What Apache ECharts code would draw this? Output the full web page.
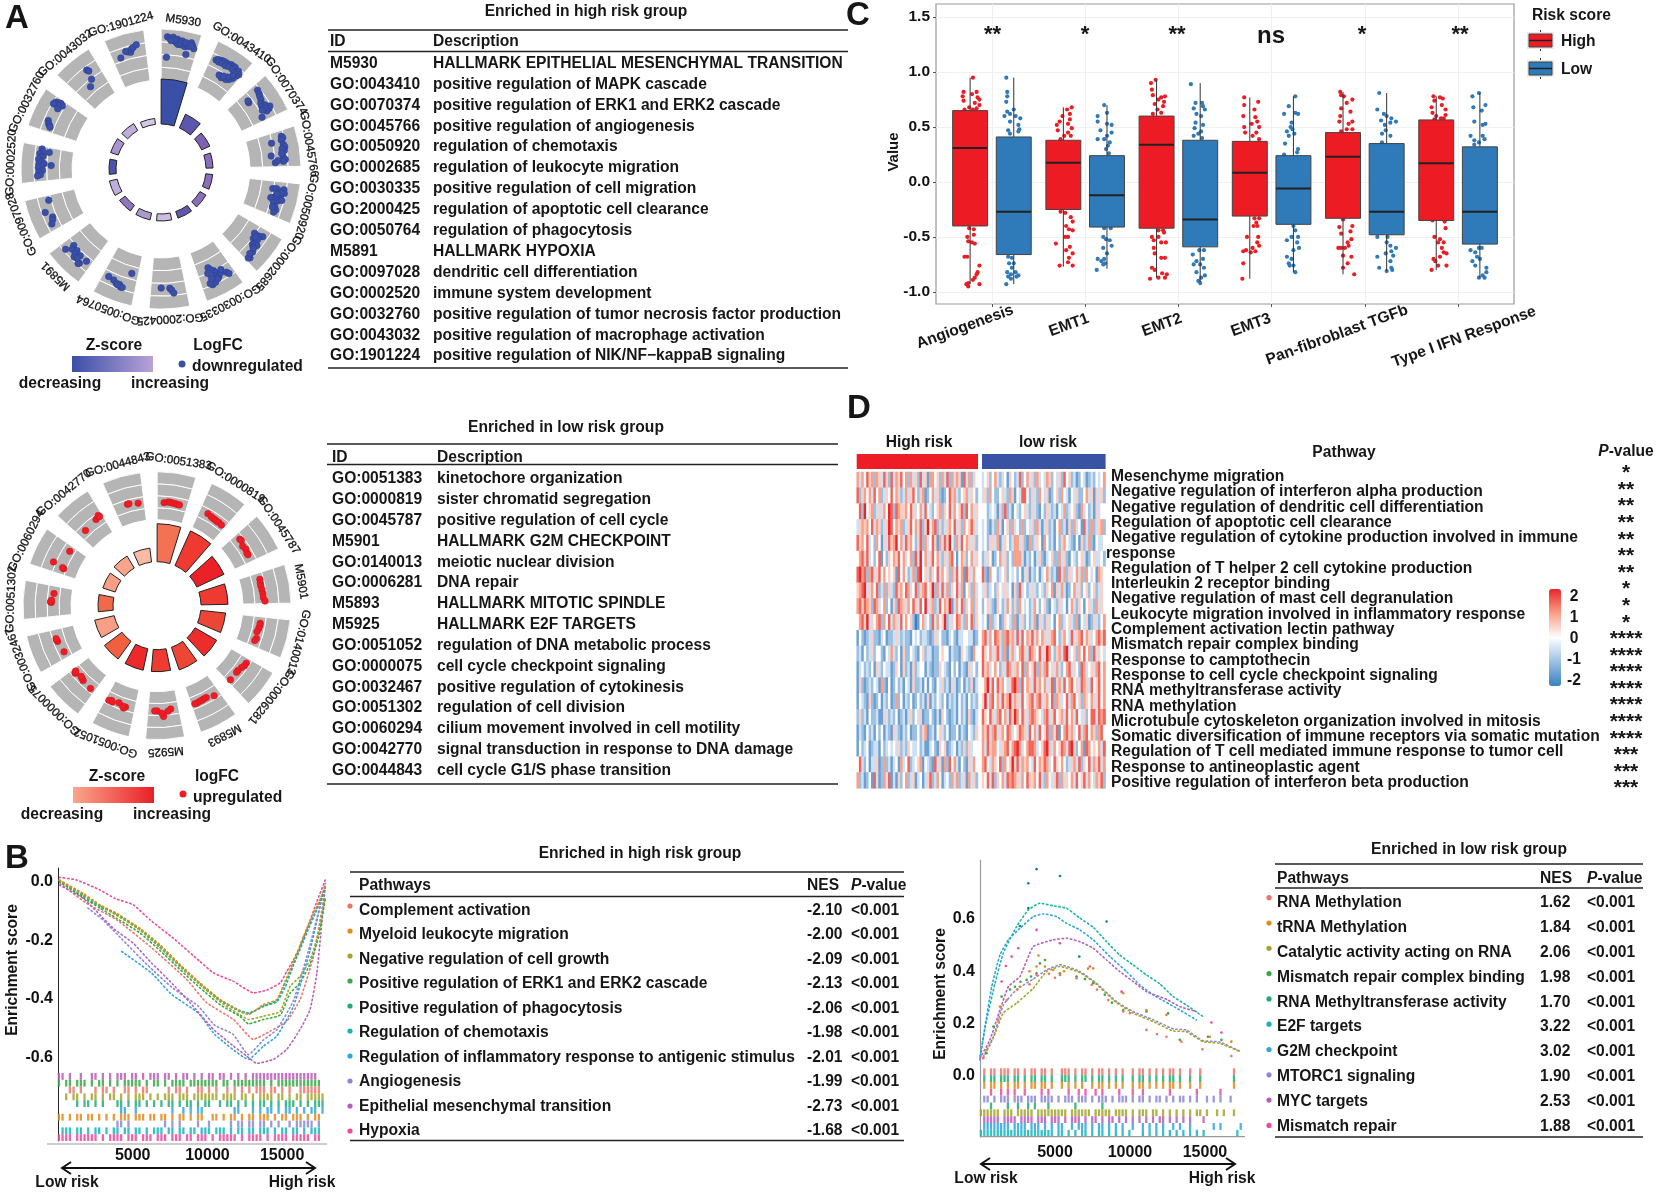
<!DOCTYPE html>
<html><head><meta charset="utf-8">
<style>html,body{margin:0;padding:0;background:#fff}#c{width:1656px;height:1192px}</style>
<script src="https://cdn.jsdelivr.net/npm/echarts@6/dist/echarts.min.js"></script></head>
<body><div id="c"></div>
<script>
/* ---------- Panel A : tables and circular plots ---------- */
const highIds=["M5930","GO:0043410","GO:0070374","GO:0045766","GO:0050920","GO:0002685","GO:0030335","GO:2000425","GO:0050764","M5891","GO:0097028","GO:0002520","GO:0032760","GO:0043032","GO:1901224"];
const highDesc=["HALLMARK EPITHELIAL MESENCHYMAL TRANSITION","positive regulation of MAPK cascade","positive regulation of ERK1 and ERK2 cascade","positive regulation of angiogenesis","regulation of chemotaxis","regulation of leukocyte migration","positive regulation of cell migration","regulation of apoptotic cell clearance","regulation of phagocytosis","HALLMARK HYPOXIA","dendritic cell differentiation","immune system development","positive regulation of tumor necrosis factor production","positive regulation of macrophage activation","positive regulation of NIK/NF\u2212kappaB signaling"];
const lowIds=["GO:0051383","GO:0000819","GO:0045787","M5901","GO:0140013","GO:0006281","M5893","M5925","GO:0051052","GO:0000075","GO:0032467","GO:0051302","GO:0060294","GO:0042770","GO:0044843"];
const lowDesc=["kinetochore organization","sister chromatid segregation","positive regulation of cell cycle","HALLMARK G2M CHECKPOINT","meiotic nuclear division","DNA repair","HALLMARK MITOTIC SPINDLE","HALLMARK E2F TARGETS","regulation of DNA metabolic process","cell cycle checkpoint signaling","positive regulation of cytokinesis","regulation of cell division","cilium movement involved in cell motility","signal transduction in response to DNA damage","cell cycle G1/S phase transition"];
const highBars=[45,15,9,7,7,7,7,7,7,7,8,7,8,8,6];
const lowBars=[38,38,30,27,25,25,24,22,22,22,20,15,13,14,14];
const highZ=[0,.25,.5,.58,.58,.58,.3,.95,.78,.6,.88,.15,.75,.88,1];
const lowZ=[.6,.2,0,.2,.3,.1,.3,.22,.07,.5,.85,.55,.85,.88,1];
const highLogFC=[
[[.85,.15],[.82,.22],[.8,.28],[.85,.3],[.78,.35],[.75,.4],[.82,.42],[.72,.45],[.78,.5],[.72,.55],[.76,.6],[.7,.65],[.75,.7],[.72,.75],[.8,.8],[.75,.85],[.7,.9],[.55,.72],[.45,.15],[.8,.35],[.78,.25],[.74,.5],[.8,.55],[.78,.65],[.74,.8]],
[[.65,.15],[.68,.2],[.69,.28],[.7,.35],[.7,.42],[.7,.5],[.72,.58],[.72,.65],[.72,.72],[.7,.85],[.65,.92],[.6,.88],[.52,.85],[.46,.78],[.42,.7],[.4,.55],[.42,.45],[.64,.24],[.65,.34],[.64,.46],[.66,.56],[.66,.68],[.62,.78],[.56,.8],[.48,.7],[.45,.58]],
[[.7,.15],[.68,.25],[.66,.32],[.64,.42],[.6,.5],[.65,.6],[.72,.7],[.68,.75],[.62,.78],[.48,.88],[.41,.28],[.42,.22],[.58,.6],[.62,.68],[.55,.7]],
[[.7,.15],[.72,.2],[.68,.25],[.48,.28],[.7,.38],[.72,.45],[.7,.55],[.43,.66],[.66,.72],[.7,.8],[.66,.85],[.5,.88],[.55,.82],[.66,.5],[.64,.62]],
[[.48,.22],[.55,.2],[.62,.25],[.7,.2],[.72,.3],[.65,.4],[.55,.45],[.48,.5],[.62,.55],[.7,.5],[.55,.62],[.6,.72],[.64,.8],[.62,.88],[.56,.75],[.66,.3],[.58,.35]],
[[.65,.2],[.58,.25],[.48,.25],[.52,.4],[.6,.45],[.66,.5],[.58,.55],[.62,.6],[.68,.72],[.72,.88],[.7,.92],[.6,.35],[.54,.32],[.64,.62],[.66,.8]],
[[.4,.62],[.45,.58],[.5,.5],[.55,.48],[.6,.55],[.65,.45],[.6,.35],[.55,.3],[.65,.2],[.7,.16],[.74,.7],[.72,.6],[.7,.75],[.5,.7],[.62,.66],[.68,.5]],
[[.59,.7],[.6,.45],[.64,.4],[.7,.35]],
[[.38,.2],[.6,.82],[.62,.65],[.66,.55],[.66,.45],[.7,.4],[.7,.35],[.68,.5]],
[[.7,.82],[.53,.75],[.6,.7],[.55,.58],[.62,.55],[.68,.5],[.58,.4],[.58,.16],[.7,.28],[.72,.3],[.65,.42]],
[[.54,.85],[.68,.55],[.58,.35],[.6,.28],[.65,.18]],
[[.62,.92],[.6,.85],[.65,.78],[.58,.72],[.62,.68],[.66,.62],[.6,.55],[.55,.5],[.65,.48],[.6,.42],[.66,.38],[.58,.3],[.65,.25],[.62,.18],[.68,.15],[.47,.85],[.41,.45]],
[[.7,.85],[.65,.88],[.6,.9],[.55,.86],[.68,.8],[.62,.8],[.72,.78],[.6,.72],[.66,.3],[.63,.22],[.6,.18],[.58,.14]],
[[.68,.65],[.64,.68],[.48,.6],[.38,.43]],
[[.57,.23],[.64,.48],[.62,.55],[.66,.42],[.68,.6],[.7,.65],[.74,.75]]];
const lowLogFC=[
[[.36,.22],[.38,.35],[.38,.42],[.37,.5],[.37,.58],[.36,.66],[.36,.74]],
[[.4,.28],[.38,.42],[.37,.5],[.37,.58],[.36,.66],[.37,.74],[.36,.86]],
[[.42,.18],[.43,.24],[.38,.42],[.4,.55],[.38,.68],[.38,.75]],
[[.42,.2],[.41,.32],[.41,.42],[.42,.55],[.43,.68],[.43,.8],[.46,.92]],
[[.39,.2],[.39,.28],[.38,.38],[.36,.5],[.39,.72],[.37,.8]],
[[.42,.15],[.42,.25],[.39,.35],[.37,.5],[.37,.58],[.38,.9]],
[[.43,.2],[.38,.45],[.38,.55],[.39,.62],[.39,.7],[.4,.8],[.4,.88]],
[[.38,.25],[.42,.35],[.52,.5],[.45,.55],[.4,.7],[.4,.78]],
[[.42,.3],[.45,.35],[.42,.4],[.38,.55],[.4,.8],[.42,.88],[.42,.76]],
[[.42,.15],[.4,.5],[.38,.58],[.37,.65],[.42,.85],[.4,.88],[.38,.9]],
[[.37,.2],[.41,.6],[.42,.65],[.42,.7]],
[[.41,.45],[.43,.47],[.41,.52],[.37,.75]],
[[.55,.28],[.3,.2],[.33,.22],[.35,.82]],
[[.37,.25],[.41,.75],[.43,.85],[.45,.88],[.42,.9]],
[[.41,.45],[.41,.5],[.38,.8]]];

/* ---------- Panel C : boxplots ---------- */
const boxCats=["Angiogenesis","EMT1","EMT2","EMT3","Pan-fibroblast TGFb","Type I IFN Response"];
const boxSig=["**","*","**","ns","*","**"];
const boxHigh=[[-.93,-.40,.31,.65,.95],[-.77,-.25,.175,.38,.68],[-.87,-.42,.34,.60,.93],[-.88,-.31,.085,.37,.77],[-.84,-.33,.23,.45,.82],[-.80,-.35,.17,.565,.78]];
const boxLow=[[-.93,-.66,-.27,.41,.95],[-.79,-.41,-.12,.24,.70],[-.91,-.59,-.34,.38,.90],[-.82,-.385,-.06,.24,.78],[-.81,-.48,-.27,.35,.81],[-.87,-.565,-.27,.32,.81]];
const jitterHigh=[
[[.03,.95],[-.07,.82],[.07,.82],[-.08,.78],[.02,.8],[.08,.77],[.1,.75],[-.07,.74],[.05,.72],[.1,.7],[-.01,.68],[.07,.67],[-.06,.66],[.03,.66],[-.01,-.42],[.04,-.43],[-.03,-.5],[.04,-.48],[-.02,-.54],[.02,-.55],[.05,-.56],[-.06,-.68],[-.03,-.68],[.1,-.76],[.07,-.84],[.05,-.87],[.03,-.89],[-.02,-.92],[-.04,-.93],[-.02,-.95],[.1,-.93],[.08,-.82]],
[[.09,.68],[.04,.66],[.07,.62],[-.01,.6],[.07,.57],[-.04,.55],[.05,.53],[-.07,.52],[.09,.49],[-.06,.47],[.05,.45],[.01,.42],[.08,.42],[-.03,.39],[-.03,-.27],[.02,-.28],[.08,-.32],[.1,-.36],[.03,-.4],[.06,-.43],[.1,-.44],[.02,-.5],[.05,-.5],[-.08,-.56],[.07,-.59],[.03,-.62],[.1,-.65],[.06,-.69],[-.04,-.76],[.1,-.76],[.05,-.73]],
[[-.01,.93],[-.06,.9],[-.05,.84],[-.04,.79],[.09,.78],[.05,.77],[.02,.75],[.08,.73],[-.02,.71],[.07,.69],[.01,.66],[.05,.63],[-.04,.62],[.02,-.44],[.07,-.44],[.08,-.46],[.02,-.5],[-.05,-.5],[-.03,-.53],[.05,-.55],[.1,-.55],[-.03,-.6],[-.02,-.65],[.05,-.69],[.09,-.69],[-.05,-.78],[-.02,-.8],[.06,-.83],[.11,-.84],[.09,-.87],[.02,-.87],[-.07,-.88]],
[[-.06,.77],[.09,.73],[-.06,.7],[.05,.66],[-.07,.6],[.06,.59],[.08,.55],[.02,.53],[.1,.5],[-.06,.5],[-.05,.45],[.07,.45],[.03,.42],[.1,.39],[.05,-.33],[.1,-.33],[.07,-.37],[.04,-.4],[.08,-.4],[-.03,-.5],[.09,-.5],[.08,-.55],[.03,-.6],[.1,-.58],[.06,-.63],[-.07,-.63],[.01,-.64],[-.04,-.62],[-.07,-.74],[-.08,-.88]],
[[-.03,.82],[-.02,.79],[.01,.78],[.1,.75],[.04,.72],[-.02,.67],[.08,.64],[-.03,.6],[.1,.55],[.06,.53],[-.04,.55],[.04,.48],[.1,.48],[-.02,.46],[.0,-.34],[-.04,-.41],[-.02,-.47],[.1,-.4],[.08,-.45],[.09,-.52],[.05,-.55],[-.02,-.6],[.02,-.6],[-.05,-.6],[.06,-.58],[.0,-.67],[.09,-.68],[.05,-.74],[.0,-.78],[.12,-.84]],
[[-.03,.78],[.04,.77],[.07,.76],[-.02,.74],[.06,.7],[-.05,.68],[.1,.66],[-.04,.63],[.1,.61],[.0,.6],[.05,.58],[.08,.58],[-.02,.57],[-.04,-.35],[.09,-.36],[.1,-.42],[-.02,-.5],[.04,-.52],[.08,-.55],[.02,-.55],[.06,-.6],[.08,-.64],[.11,-.65],[.04,-.68],[-.03,-.7],[-.01,-.72],[.11,-.76],[-.05,-.8],[.02,-.76]]];
const jitterLow=[
[[-.08,.95],[-.07,.82],[-.07,.78],[-.08,.73],[0,.66],[-.07,.64],[-.04,.62],[.02,.6],[-.1,.6],[.07,.58],[-.04,.55],[.05,.52],[.06,.48],[-.06,.47],[.05,.46],[-.04,.44],[-.06,-.68],[-.02,-.69],[-.05,-.74],[.0,-.74],[-.02,-.78],[-.07,-.82],[-.03,-.84],[.02,-.82],[-.06,-.86],[.03,-.86],[.05,-.85],[-.03,-.88],[-.08,-.93]],
[[-.03,.70],[-.1,.6],[.0,.63],[-.1,.55],[.0,.53],[.05,.52],[-.07,.47],[.05,.45],[.0,.42],[-.1,.39],[-.03,.39],[.03,.36],[.01,.33],[-.01,.3],[.02,.26],[-.03,-.42],[.04,-.42],[-.04,-.5],[-.01,-.52],[.03,-.53],[.05,-.58],[-.04,-.6],[.0,-.65],[-.1,-.7],[-.06,-.72],[-.03,-.7],[-.02,-.74],[-.11,-.8],[-.04,-.75]],
[[-.1,.89],[-.05,.72],[.02,.72],[.03,.69],[-.07,.67],[.05,.66],[-.04,.62],[.01,.6],[-.05,.54],[.03,.52],[-.06,.49],[.01,.46],[-.02,.44],[-.07,.42],[.02,.4],[-.01,-.62],[.04,-.62],[-.08,-.66],[-.04,-.72],[.03,-.7],[-.07,-.75],[.0,-.75],[.04,-.78],[-.04,-.82],[.05,-.85],[.01,-.87],[-.02,-.9],[.0,-.92]],
[[.02,.78],[-.05,.69],[.02,.63],[.05,.62],[-.1,.62],[-.02,.54],[-.03,.5],[-.01,.48],[-.07,.46],[.01,.44],[-.05,.42],[-.09,.35],[.05,.3],[.04,.27],[-.1,.25],[.0,-.4],[.02,-.44],[-.02,-.5],[.05,-.5],[.04,-.55],[-.07,-.53],[.06,-.6],[.0,-.62],[-.07,-.68],[-.02,-.7],[-.05,-.74],[.0,-.76],[.02,-.82],[-.04,-.76]],
[[-.08,.81],[-.1,.66],[-.03,.62],[.0,.6],[.05,.58],[-.06,.56],[.1,.55],[-.02,.52],[.04,.54],[-.01,.47],[-.05,.44],[.04,.42],[-.05,.36],[-.1,-.5],[.01,-.5],[.0,-.55],[.04,-.58],[.1,-.6],[.05,-.63],[-.01,-.65],[.07,-.67],[-.1,-.68],[.04,-.72],[-.08,-.78],[.06,-.8],[.0,-.81],[.05,-.78]],
[[-.01,.81],[-.08,.78],[.06,.7],[-.07,.68],[.02,.65],[-.06,.55],[.06,.53],[.03,.52],[-.1,.42],[.03,.42],[.05,.39],[-.06,.38],[-.01,.36],[-.06,.34],[-.01,-.6],[-.1,-.62],[-.05,-.64],[.02,-.6],[-.03,-.68],[.0,-.7],[-.08,-.72],[-.05,-.76],[.07,-.78],[.03,-.85],[-.01,-.87],[.05,-.87],[.07,-.82]]];

/* ---------- Panel D : heatmap (digits 0..8 read as -2..+2) ---------- */
const heatHigh=[
"63647 56265 37527 36574 62635 27351 66452 63726 36517 36254",
"72564 63746 23547 46523 63574 25612 46352 12475 63245 63542",
"47284 56235 36487 27655 64753 46374 32456 25473 64572 74635",
"35656 47365 23587 46562 35746 37258 46725 23564 73526 45753",
"75647 34264 15375 68463 75642 57263 47516 37584 26374 65352",
"46757 34247 14254 65746 34627 38463 57463 25367 41465 24635",
"78672 67357 46454 51746 42362 78453 63473 64526 37461 75364",
"56783 56472 36253 27564 76347 25674 58263 73625 47361 45263",
"67576 52763 46241 52765 36475 37483 56237 46581 36472 54625",
"46758 35467 26473 65374 64520 14634 27364 58235 47632 64725",
"14212 35221 34122 35323 22143 42332 12534 22134 21334 43312",
"23142 35244 21436 32415 22432 14523 31224 54413 22154 32164",
"13423 24153 24331 25415 23152 34413 21225 43214 24132 15342",
"15212 32431 62141 24231 43152 23141 42143 52315 31241 32513",
"14321 52124 13241 26241 32412 42315 13243 24132 31423 14232",
"25231 42231 15323 24123 13524 35122 42131 54212 31423 15213",
"13214 23142 41321 53213 24122 42561 23145 32412 24132 14325",
"14234 12331 42343 43523 25433 42311 34215 45123 41325 25344",
"47324 13351 26231 34163 47234 56143 21735 16274 63142 15364",
"62312 41731 26371 31524 62351 34135 72364 13426 36235 16352"];
const heatLow=[
"34524 63234 15423 72463 52634 36524 35274 52312 43123 24346",
"35264 22453 26514 37742 53264 35124 52643 14352 24635 15352",
"44234 31527 23143 24532 53214 25323 14362 34521 63423 15344",
"34213 26314 52634 26243 52631 35231 46231 52634 17326 23562",
"34255 36135 42366 35216 23541 64231 42564 32141 52362 14334",
"23541 24635 24266 63132 41352 13452 26352 14324 53124 53342",
"72164 42345 24342 41351 32413 46323 17362 53463 62643 41654",
"35234 25435 34152 73423 53243 25461 53631 24635 24524 52354",
"24532 15423 64252 64342 36424 52143 25341 46325 41453 26354",
"34162 34125 43261 35242 36153 25341 46234 53261 43512 53246",
"67364 76526 75637 37465 73646 53567 42564 37356 74653 46757",
"75463 57326 15634 67537 65473 58642 56378 34526 47462 73543",
"75634 64253 76356 47264 57263 67453 63246 73542 76345 36746",
"46837 47564 35786 27465 37564 63571 56374 67453 76537 45746",
"58367 46375 68365 37456 73673 56472 65347 36745 26546 35746",
"75475 36746 37586 47536 76543 67357 45637 46374 35247 73767",
"65736 73564 76345 76537 46374 57263 71467 56347 36746 52674",
"63756 64356 74678 63467 76345 78536 45763 78524 61764 54637",
"67436 54726 45857 36564 37465 76347 54642 35637 25473 65736",
"54737 25463 76765 36475 56473 26435 72635 46374 57364 36572"];
const heatLines=["Mesenchyme migration","Negative regulation of interferon alpha production","Negative regulation of dendritic cell differentiation","Regulation of apoptotic cell clearance","Negative regulation of cytokine production involved in immune","response","Regulation of T helper 2 cell cytokine production","Interleukin 2 receptor binding","Negative regulation of mast cell degranulation","Leukocyte migration involved in inflammatory response","Complement activation lectin pathway","Mismatch repair complex binding","Response to camptothecin","Response to cell cycle checkpoint signaling","RNA methyltransferase activity","RNA methylation","Microtubule cytoskeleton organization involved in mitosis","Somatic diversification of immune receptors via somatic mutation","Regulation of T cell mediated immune response to tumor cell","Response to antineoplastic agent","Positive regulation of interferon beta production"];
const heatStars=["*","**","**","**","**","**","**","*","*","*","****","****","****","****","****","****","****","***","***","***"];
const heatScale=["2","1","0","-1","-2"];

/* ---------- Panel B : GSEA ---------- */
const gseaHighNames=["Complement activation","Myeloid leukocyte migration","Negative regulation of cell growth","Positive regulation of ERK1 and ERK2 cascade","Positive regulation of phagocytosis","Regulation of chemotaxis","Regulation of inflammatory response to antigenic stimulus","Angiogenesis","Epithelial mesenchymal transition","Hypoxia"];
const gseaHighNES=["-2.10","-2.00","-2.09","-2.13","-2.06","-1.98","-2.01","-1.99","-2.73","-1.68"];
const gseaHighColors=["#f0736a","#e08b1c","#a3a52a","#39a845","#22ab74","#16b5bd","#2fa4e0","#8d86d6","#b95cbb","#ec4a9f"];
const gseaLowNames=["RNA Methylation","tRNA Methylation","Catalytic activity acting on RNA","Mismatch repair complex binding","RNA Methyltransferase activity","E2F targets","G2M checkpoint","MTORC1 signaling","MYC targets","Mismatch repair"];
const gseaLowNES=["1.62","1.84","2.06","1.98","1.70","3.22","3.02","1.90","2.53","1.88"];
const gseaLowColors=gseaHighColors;
const gseaP="<0.001";
const gseaHighXTicks=[5000,10000,15000];
const gseaHighYTicks=[0,-.2,-.4,-.6];
const gseaLowYTicks=[0,.2,.4,.6];
const curveMyeloid=[[90,.006],[1700,-.04],[2810,-.079],[3930,-.108],[5490,-.159],[6830,-.215],[8170,-.283],[9500,-.345],[10850,-.402],[12190,-.442],[12750,-.453],[13750,-.419],[14640,-.402],[15200,-.34],[15760,-.272],[16650,-.159],[17320,-.085],[17880,-.017]];
const curvePhago=[[90,.004],[1700,-.045],[2810,-.082],[3930,-.112],[5490,-.162],[6830,-.22],[8170,-.285],[9500,-.347],[10850,-.405],[12190,-.444],[12750,-.45],[13750,-.425],[14640,-.405],[15200,-.345],[15760,-.28],[16650,-.165],[17320,-.09],[17880,-.02]];
const curveChemo=[[90,.003],[1700,-.05],[2810,-.085],[3930,-.11],[5490,-.165],[6830,-.225],[8170,-.29],[9500,-.35],[10850,-.403],[12190,-.44],[12750,-.448],[13750,-.425],[14640,-.41],[15200,-.36],[15760,-.285],[16650,-.175],[17320,-.095],[17880,-.025]];
const curveGrowth=[[90,.005],[1700,-.045],[2810,-.08],[3930,-.115],[5490,-.165],[6830,-.225],[8170,-.29],[9500,-.352],[10850,-.41],[12190,-.455],[12750,-.47],[13750,-.459],[14870,-.442],[15530,-.357],[16200,-.323],[16870,-.266],[17430,-.176],[17880,-.051]];
const curveERK=[[90,.0],[1700,-.055],[2810,-.09],[3930,-.125],[5490,-.175],[6830,-.235],[8170,-.3],[9500,-.362],[10850,-.42],[12190,-.46],[12750,-.485],[13750,-.47],[14870,-.455],[15530,-.38],[16200,-.345],[16870,-.28],[17430,-.19],[17880,-.06]];
const curveComplement=[[135,-.006],[1920,-.074],[3930,-.13],[6160,-.221],[8620,-.334],[9950,-.413],[11740,-.47],[13080,-.538],[14200,-.51],[15310,-.476],[16200,-.402],[17090,-.255],[17880,-.028]];
const curveInflam=[[4260,-.238],[6270,-.312],[7610,-.385],[9390,-.448],[10490,-.521],[12750,-.606],[13750,-.561],[14640,-.527],[15760,-.425],[16870,-.233],[17880,-.006]];
const curveAngio=[[2000,-.09],[3000,-.13],[4260,-.195],[6000,-.285],[7610,-.36],[9390,-.425],[10490,-.49],[11700,-.52],[12750,-.59],[13750,-.54],[14640,-.505],[15760,-.405],[16870,-.215],[17880,-.01]];
const curveEMT=[[90,-.011],[1700,-.057],[3700,-.159],[5040,-.21],[6270,-.278],[7500,-.34],[8840,-.413],[10400,-.504],[11740,-.561],[12630,-.595],[13300,-.62],[14420,-.606],[15310,-.572],[16200,-.504],[16870,-.436],[17320,-.312],[17650,-.142],[17880,-.006]];
const curveHypoxia=[[90,.015],[1250,.006],[2810,-.028],[3820,-.057],[5050,-.079],[6160,-.13],[7720,-.193],[9500,-.272],[10400,-.311],[11740,-.34],[13080,-.379],[13970,-.37],[14870,-.345],[15310,-.306],[15760,-.266],[16200,-.221],[16760,-.147],[17320,-.068],[17880,.006]];
const rugHighRows=[
["#b95cbb","11.1..1..11.1.1.111.11.1.111.11.1.11.1.1.11.11.1.1.1.111111111111111111"],
["#39a845","1.11.111.1.11.1.1.11111.1.11.1.1111.11111111.11.111111111.1.111111111111"],
["#f0736a","...11.1...1.11.1..11.1.11.....1.11.1..11.1.1..1.1.1.1.111.11.1.1..111111."],
["#a3a52a","..1.11.1.11.1.11.1.1.111.1.1.111.111.1111111.1111.11.1.1111.11.1.11.11111"],
["#22ab74",".....1.11.1.1...11.1.11.1.1.1.11.1.11.1.11..1.11.1.1.1.11.1.1.111.1.1.111"],
["#2fa4e0",".................11..1.........1..1.1.11........11...1.1.11.1.11.1.1.11.1"],
["#e08b1c","11.1.11.11.1.1.1.111.111.11.11.1.11.1.11..11.1.11.1.11.111.1.11.111.1.11"],
["#8d86d6","................11.1.........1.1.1....1..1.....1.11.11.11.1.1..1.11111.1."],
["#16b5bd",".111.11.1.11.1.11.11.11.1.111.11.11.11.111.111.1.11.11.111.1.11.11.1.111"],
["#ec4a9f","1111.111111.1.1111.111.111.111.111.11.111.1.11111.1.1111.1.1111.11111.11"]];
const curveE2F=[[0,.074],[440,.214],[1000,.354],[1550,.469],[2440,.571],[3220,.634],[4000,.66],[4880,.65],[5770,.641],[6660,.603],[7550,.568],[8440,.513],[9320,.462],[10210,.424],[11100,.386],[11990,.352],[12880,.303],[13760,.271],[14870,.227]];
const curveG2M=[[0,.061],[330,.189],[780,.341],[1330,.462],[1890,.52],[2660,.564],[3550,.609],[4220,.619],[5100,.609],[5770,.583],[6660,.558],[7550,.52],[8660,.456],[9770,.399],[10660,.348],[11540,.31],[13320,.252],[14430,.214]];
const curveMYC=[[0,.068],[660,.138],[1330,.252],[1890,.341],[2660,.38],[3550,.494],[4880,.52],[5770,.526],[6660,.513],[7550,.488],[8440,.443],[9320,.399],[10210,.361],[11100,.322],[12430,.293],[13320,.265],[14430,.246]];
const curveMTORC=[[220,.074],[890,.15],[1550,.27],[2440,.33],[3550,.37],[4440,.405],[5330,.425],[6660,.399],[7770,.354],[9100,.284],[10210,.246],[11540,.215],[12880,.18],[13760,.175],[14870,.135],[15980,.13],[17320,.095]];
const curveCatalytic=[[220,.07],[890,.145],[1550,.24],[2440,.278],[3550,.335],[4440,.399],[5330,.418],[6660,.395],[7770,.35],[9100,.28],[10210,.24],[11540,.208],[12880,.172],[13760,.169],[14870,.131],[15980,.125],[17320,.093]];
const dotsMethyltrans=[[3220,.736],[3770,.79],[5330,.764],[3220,.641],[8440,.59],[6620,.456],[2660,.573]];
const dotsBinding=[[440,.087],[890,.189],[1440,.303],[2330,.341],[3110,.367],[3770,.392],[4330,.443],[5330,.392],[6440,.38],[7550,.354],[8320,.31],[9550,.252],[11100,.246],[12540,.239],[13320,.138],[15200,.15],[16100,.138],[2000,.33],[2700,.36],[3400,.38],[4000,.43],[7000,.37],[8800,.28]];
const dotsMethylation=[[220,.068],[1220,.214],[1780,.29],[2500,.33],[3300,.35],[3770,.386],[5330,.386],[6440,.373],[7440,.348],[8550,.29],[9550,.246],[11100,.176],[12430,.15],[13430,.131],[14830,.102],[16760,.076],[4600,.39],[5000,.375],[7800,.33],[10000,.24],[11800,.16]];
const dotsTRNA=[[440,.099],[1330,.265],[2660,.341],[3770,.418],[4330,.418],[4880,.405],[7550,.411],[9550,.316],[11100,.252],[12430,.233],[15320,.15],[16760,.131],[3300,.4],[3900,.46],[5600,.4],[7200,.41]];
const dotsMismatch=[[1440,.361],[2110,.456],[2550,.488],[3770,.558],[5330,.507],[7330,.418],[9440,.322],[16100,.166],[15430,.204],[1720,.42]];
const rugLowRows=[
["#f0736a",".1.11.111.11.1.11.11.1..111.1.11.1.11.1.1.1..1.11.1.1.1.11.1..1..1.........1"],
["#22ab74",".1.11.111.11.1.11.11.1..111.1.11.1.11.1.1.1..1.11.1.1.1.11.1..1..1.........1"],
["#e08b1c",".1.11.1.1.11.1.11.11.1..1.1.1.1..1.11.1.1.1..1.11.1.1.1.11.1..1..1.........1"],
["#ec4a9f","...1..1.1.1..1....1.1.....1..1.1..1.1....1...1..1.......1.......1......1...."],
["#8d86d6",".11.1.111.111.111.1111.1.111.111.1.111.1.111.1.11.1.11.1.1.11.1.1..1.1.1..1"],
["#22ab74","...1....1..1..1.1...1.......1.......1......................................."],
["#a3a52a","111111.111.11111.111111111.111111.11111.1111.1.111.11.1.1.1.1.1.11.1..1.1..1"],
["#b95cbb",".11111.1111.1111.111.111.1.111.1.11.1.11.1.1.1.1.1.1.11.1.1.1.1...1........."],
["#2fa4e0",".11111111.1111.111.1.1.11..1.111.1.11.1.1.1..1..1.1.1.1..1.1..1......1.1.....1"],
["#16b5bd","1111111111111111111111.11.1.1.11.1.11.1.1.1.1...1.1.1.1.1.1.1.1.1.1.........1"]];

/* ---------- helpers ---------- */
const FF='"Liberation Sans",Arial,sans-serif';
const g=[];
function T(x,y,text,o){o=o||{};
  const st={text:text,fill:o.fill||'#161616',font:(o.w||'bold')+' '+(o.s||15.6)+'px '+FF,
    align:o.a||'left',verticalAlign:'middle',textAlign:o.a||'left',textVerticalAlign:'middle'};
  if(o.rich)st.rich=o.rich;
  if(o.thick){st.stroke=st.fill;st.lineWidth=o.thick;}
  g.push({type:'text',x:x,y:o.r?y:y+1,rotation:o.r||0,silent:true,z:50,style:st});}
function L(x1,y1,x2,y2,w,c){g.push({type:'line',silent:true,z:40,shape:{x1,y1,x2,y2},style:{stroke:c||'#222',lineWidth:w||1.5}});}
function R(x,y,w,h,fill,o){g.push({type:'rect',silent:true,z:(o&&o.z)||40,shape:{x,y,width:w,height:h},style:Object.assign({fill:fill},o&&o.style)});}
function C(x,y,r,fill){g.push({type:'circle',silent:true,z:40,shape:{cx:x,cy:y,r:r},style:{fill:fill}});}
function arrow(x1,x2,y){L(x1,y,x2,y,2,'#111');
  g.push({type:'polyline',silent:true,z:40,shape:{points:[[x1+9,y-6],[x1,y],[x1+9,y+6]]},style:{stroke:'#111',lineWidth:2,fill:null}});
  g.push({type:'polyline',silent:true,z:40,shape:{points:[[x2-9,y-6],[x2,y],[x2-9,y+6]]},style:{stroke:'#111',lineWidth:2,fill:null}});}
const PR={i:{font:'italic bold 15.6px '+FF,fill:'#161616'}};

/* ---------- option containers ---------- */
const polar=[],angleAxis=[],radiusAxis=[],series=[];
const hidden={axisLine:{show:false},axisTick:{show:false},axisLabel:{show:false},splitLine:{show:false},splitArea:{show:false}};
function addPolar(cx,cy,r0,r1,ang,rad){const i=polar.length;polar.push({center:[cx,cy],radius:[r0,r1]});
  angleAxis.push(Object.assign({polarIndex:i},hidden,ang));radiusAxis.push(Object.assign({polarIndex:i},hidden,rad));return i;}
function ring(cx,cy,rIn,rG,rOut,ids,bars,zs,logfc,ramp,dot,dotB,labR){
  const cats=ids.map((_,i)=>i),sa=93.5;
  const p0=addPolar(cx,cy,rIn,rOut,{type:'category',data:cats,startAngle:sa},{type:'value',min:0,max:rOut-rIn});
  series.push({type:'bar',coordinateSystem:'polar',polarIndex:p0,barCategoryGap:'30%',z:3,silent:true,
    data:bars.map((b,i)=>({value:b,itemStyle:{color:echarts.color.lerp(zs[i],ramp),borderColor:'#222',borderWidth:1}}))});
  const p1=addPolar(cx,cy,rG,rOut,{type:'category',data:cats,startAngle:sa},{type:'value',min:0,max:4});
  for(let k=0;k<4;k++)series.push({type:'bar',coordinateSystem:'polar',polarIndex:p1,stack:'grey'+p1,barCategoryGap:'30%',z:2,silent:true,
    itemStyle:{color:'#b5b5b5',borderColor:'#fff',borderWidth:.9},data:cats.map(()=>1)});
  const p2=addPolar(cx,cy,rG,rOut,{type:'value',min:0,max:360,startAngle:90},{type:'value',min:0,max:1});
  const pts=[];logfc.forEach((arr,i)=>arr.forEach(p=>pts.push([p[0],24*i+.3+16.6*p[1]])));
  series.push({type:'scatter',coordinateSystem:'polar',polarIndex:p2,symbolSize:6.5,z:5,silent:true,
    itemStyle:{color:dot,borderColor:dotB,borderWidth:.6,opacity:1},data:pts});
  ids.forEach((id,i)=>{const th=(8.5+24*i)*Math.PI/180;
    T(cx+labR*Math.sin(th),cy-labR*Math.cos(th),id,{a:'center',w:'normal',s:11.7,r:-th,fill:'#111',thick:.3});});
}
ring(161,169,45,89,140,highIds,highBars,highZ,highLogFC,['#3a4fa8','#7d5fb4','#d6c6e8'],'#3a4fa8','#2f3f90',150);
ring(157,605.7,44,86,134,lowIds,lowBars,lowZ,lowLogFC,['#ec2027','#f0603f','#fbb9a2'],'#ee1c25','#d5161d',146);

/* panel letters */
T(5,18,'A',{s:33});T(5,858,'B',{s:33});T(846,15,'C',{s:33});T(847,408,'D',{s:33});

/* panel A tables */
function goTable(tx,ty,ids,desc,x0,x1,top,hdr,bot,hy,ry,rs,xi,xd){
  T(tx,ty,ids===highIds?'Enriched in high risk group':'Enriched in low risk group',{a:'center'});
  L(x0,top,x1,top);L(x0,hdr,x1,hdr);L(x0,bot,x1,bot);
  T(xi,hy,'ID');T(xd,hy,'Description');
  ids.forEach((d,i)=>{T(xi,ry+rs*i,d);T(xd,ry+rs*i,desc[i]);});
}
goTable(586,11,highIds,highDesc,328,848,30,51.5,368,41,62.5,20.9,330,433);
goTable(566,427,lowIds,lowDesc,327,838,444,464.5,784,457,478,20.83,332,437);

/* circular legends */
const gr=(a,b)=>new echarts.graphic.LinearGradient(0,0,1,0,[{offset:0,color:a},{offset:1,color:b}]);
T(114,345,'Z-score',{a:'center'});R(72,356,81,16,gr('#3a4fa8','#b9a2d6'));T(218,345,'LogFC',{a:'center'});C(182,364,3.5,'#3a4fa8');T(192,366,'downregulated');T(60,383,'decreasing',{a:'center'});T(170,383,'increasing',{a:'center'});
T(117,776,'Z-score',{a:'center'});R(73,787,81,16,gr('#f9a78c','#ea1f27'));T(217,776,'logFC',{a:'center'});C(183,794,3.5,'#ee1c25');T(193,797,'upregulated');T(62,814,'decreasing',{a:'center'});T(172,814,'increasing',{a:'center'});

/* ---------- cartesian ---------- */
const grid=[],xAxis=[],yAxis=[];
const lab=(o)=>Object.assign({color:'#111',fontFamily:FF,fontWeight:'bold',fontSize:15},o);
function addGrid(l,t,r,b,x,y){grid.push({left:l,top:t,width:r-l,height:b-t,containLabel:false,show:false});
  const i=grid.length-1;xAxis.push(Object.assign({gridIndex:i},x));yAxis.push(Object.assign({gridIndex:i},y));return i;}

/* panel C */
const gC=addGrid(936,4,1514,304,
 {type:'value',min:.4,max:6.6,axisLine:{show:false,onZero:false},axisLabel:{show:false},axisTick:{length:3,lineStyle:{color:'#555'},customValues:[1,2,3,4,5,6]},splitLine:{show:true,lineStyle:{color:'#f0f0f0',width:1}}},
 {type:'value',min:-1.11,max:1.62,axisLine:{show:false,onZero:false},axisTick:{length:3,lineStyle:{color:'#555'},customValues:[-1,-.5,0,.5,1,1.5]},
  axisLabel:lab({fontSize:15.5,margin:6,customValues:[-1,-.5,0,.5,1,1.5],formatter:v=>v.toFixed(1)}),splitLine:{show:true,lineStyle:{color:'#f0f0f0',width:1}}});
grid[gC].show=true;grid[gC].borderColor='#9a9a9a';grid[gC].borderWidth=1.2;
function jitter(arr,off){const out=[];arr.forEach((g2,i)=>g2.forEach(p=>out.push([i+1+off+p[0],p[1]])));return out;}
series.push({type:'scatter',xAxisIndex:gC,yAxisIndex:gC,symbolSize:4.2,z:2,silent:true,itemStyle:{color:'#ed1c24',opacity:1},data:jitter(jitterHigh,-.234)});
series.push({type:'scatter',xAxisIndex:gC,yAxisIndex:gC,symbolSize:4.2,z:2,silent:true,itemStyle:{color:'#2f7ab9',opacity:1},data:jitter(jitterLow,.234)});
function boxSeries(data,off,color){
  series.push({type:'custom',xAxisIndex:gC,yAxisIndex:gC,z:4,silent:true,clip:false,
   encode:{x:0,y:[1,2,3,4,5]},
   data:data.map((d,i)=>[i+1+off].concat(d)),
   renderItem:(p,api)=>{const x=api.value(0),w=api.size([.375,0])[0]/2,px=api.coord([x,0])[0];
     const yy=k=>api.coord([x,api.value(k)])[1];
     const ln={stroke:'#333',lineWidth:1};
     return {type:'group',children:[
      {type:'line',shape:{x1:px,y1:yy(1),x2:px,y2:yy(5)},style:ln},
      {type:'rect',shape:{x:px-w,y:yy(4),width:2*w,height:yy(2)-yy(4)},style:{fill:color,stroke:'#444',lineWidth:1}},
      {type:'line',shape:{x1:px-w,y1:yy(3),x2:px+w,y2:yy(3)},style:{stroke:'#222',lineWidth:2}}]};}});
}
boxSeries(boxHigh,-.234,'#ed1c24');boxSeries(boxLow,.234,'#2f7ab9');
[[992.6,30],[1085,30],[1177,30],[1271,35],[1362,30],[1460,30]].forEach((q,i)=>{
  const ns=boxSig[i]==='ns';T(q[0],ns?q[1]:q[1]+4,boxSig[i],{a:'center',s:ns?24:22});});
[[965,327],[1069,325],[1162,325],[1251,325],[1337,335],[1464,337]].forEach((q,i)=>T(q[0],q[1],boxCats[i],{a:'center',s:15.6,r:20*Math.PI/180}));
T(894,152,'Value',{a:'center',s:15,r:Math.PI/2});
T(1532,15,'Risk score',{s:15.6});
[[32,'#ed1c24','High'],[60,'#2f7ab9','Low']].forEach(q=>{
  R(1527,q[0],27,17,'#e8e8e8',{z:41});L(1540.5,q[0]-2,1540.5,q[0]+19,1,'#333');
  R(1529,q[0]+2,23,13,q[1],{z:42,style:{stroke:'#444',lineWidth:1}});
  g.push({type:'line',silent:true,z:43,shape:{x1:1529,y1:q[0]+8.5,x2:1552,y2:q[0]+8.5},style:{stroke:'#222',lineWidth:1.5}});
  T(1561,q[0]+9,q[2],{s:15.6});});

/* panel D */
const decode=s=>s.replace(/\s/g,'').split('').map(c=>(+c-4)/2);
const rowsIdx=heatHigh.map((_,i)=>i);
const colsIdx=decode(heatHigh[0]).map((_,i)=>i);
const hAxes=(l,r)=>addGrid(l,472,r,788.3,Object.assign({type:'category',data:colsIdx,boundaryGap:true},hidden),Object.assign({type:'category',data:rowsIdx,inverse:true,boundaryGap:true},hidden));
const gH1=hAxes(856.7,978),gH2=hAxes(982,1105.6);
const heatSeries=[];
function heat(rows,gi){const d=[];rows.forEach((s,r)=>decode(s).forEach((v,c)=>d.push([c,r,v])));
  heatSeries.push(series.length);
  series.push({type:'heatmap',xAxisIndex:gi,yAxisIndex:gi,data:d,silent:true,z:2,itemStyle:{borderWidth:0},progressive:0});}
heat(heatHigh,gH1);heat(heatLow,gH2);
R(856.7,454,121.3,15,'#ee1c25');R(982,454,123.6,15,'#3953a4');
T(919,442,'High risk',{a:'center'});T(1048,442,'low risk',{a:'center'});
T(1344,452,'Pathway',{a:'center'});
T(1626,451,'{i|P}-value',{a:'center',rich:PR});
heatLines.forEach((s,i)=>T(i===5?1106:1111,475.7+15.3*i,s));
heatStars.forEach((s,i)=>T(1626,472.5+16.58*i,s,{a:'center',s:21}));
heatScale.forEach((s,i)=>T(1574,596+20.8*i,s,{a:'center',s:15.6}));

/* panel B left */
const intFmt=v=>String(v);
const gL=addGrid(58,868,327,1141,
 {type:'value',min:0,max:18000,axisLine:{show:false,onZero:false},axisTick:{show:false},splitLine:{show:false},axisLabel:lab({fontSize:16,margin:7,customValues:gseaHighXTicks,formatter:intFmt})},
 {type:'value',min:-.885,max:.047,axisLine:{show:true,onZero:false,lineStyle:{color:'#222',width:1}},axisTick:{show:false,customValues:gseaHighYTicks},splitLine:{show:false},
  axisLabel:lab({fontSize:16,margin:5,customValues:gseaHighYTicks,formatter:v=>v.toFixed(1)})});
const curveStyle=(c,name)=>({type:'line',xAxisIndex:name,yAxisIndex:name,smooth:.15,symbol:'none',silent:true,z:3,lineStyle:{color:c,width:1.6,type:[1.4,2.8],cap:'round'}});
const CC=gseaHighColors;
[[curveComplement,CC[0]],[curveInflam,CC[6]],[curveAngio,CC[7]],[curveEMT,CC[8]],[curveHypoxia,CC[9]],[curveChemo,CC[5]],[curvePhago,CC[4]],[curveGrowth,CC[2]],[curveERK,CC[3]],[curveMyeloid,CC[1]]].forEach(q=>
  series.push(Object.assign(curveStyle(q[1],gL),{data:q[0]})));
function rugGrid(l,t,r,b,rows,max,bin){
  const gi=addGrid(l,t,r,b,Object.assign({type:'value',min:0,max:max},hidden),Object.assign({type:'category',inverse:true,data:rows.map((_,i)=>i)},hidden));
  const h=(b-t)/rows.length;
  rows.forEach((row,i)=>{const d=[];row[1].split('').forEach((c,k)=>{if(c==='1')d.push([k*bin+60,i]);});
    series.push({type:'scatter',xAxisIndex:gi,yAxisIndex:gi,symbol:'rect',symbolSize:[2.3,h],silent:true,z:2,itemStyle:{color:row[0],opacity:.85},data:d});});
}
rugGrid(58,1073,327,1141,rugHighRows,18000,245);
L(47,1144,327,1144,1.2,'#9a9a9a');
arrow(62,315,1168);T(67,1182,'Low risk',{a:'center'});T(302,1182,'High risk',{a:'center'});
T(13,970,'Enrichment score',{a:'center',s:15.6,r:Math.PI/2});

function gseaTable(title,tx,ty,names,nes,colors,x0,x1,top,hdr,bot,hy,ry,rs,xp,xn,xv,dx,dy,ds){
  T(tx,ty,title,{a:'center'});L(x0,top,x1,top);L(x0,hdr,x1,hdr);L(x0,bot,x1,bot);
  T(xp,hy,'Pathways');T(xn,hy,'NES');T(xv,hy,'{i|P}-value',{rich:PR});
  names.forEach((n,i)=>{T(xp,ry+rs*i,n);T(xn,ry+rs*i,nes[i]);T(xv,ry+rs*i,gseaP);C(dx,dy+ds*i,2.6,colors[i]);});
}
gseaTable('Enriched in high risk group',640,853,gseaHighNames,gseaHighNES,gseaHighColors,350,904,872,896.5,1140.5,885,909.3,24.5,359,807,851,350,906,25);
gseaTable('Enriched in low risk group',1469,849,gseaLowNames,gseaLowNES,gseaLowColors,1275,1643,864,888,1137,877.5,902,24.8,1277,1540,1587,1269,897.7,25.3);

/* panel B right */
const gR=addGrid(980,860,1245,1136.7,
 {type:'value',min:0,max:17670,axisLine:{show:false,onZero:false},axisTick:{show:false},splitLine:{show:false},axisLabel:lab({fontSize:16,margin:8,customValues:gseaHighXTicks,formatter:intFmt})},
 {type:'value',min:-.232,max:.825,axisLine:{show:true,onZero:false,lineStyle:{color:'#9a9a9a',width:1.2}},axisTick:{show:false,customValues:gseaLowYTicks},splitLine:{show:false},
  axisLabel:lab({fontSize:16,margin:5,customValues:gseaLowYTicks,formatter:v=>v.toFixed(1)})});
[[curveE2F,'#1ab3a0'],[curveG2M,CC[6]],[curveMYC,CC[8]],[curveMTORC,CC[7]],[curveCatalytic,CC[2]]].forEach(q=>series.push(Object.assign(curveStyle(q[1],gR),{data:q[0]})));
[[dotsMethyltrans,'#0f8f5f'],[dotsBinding,CC[3]],[dotsMethylation,CC[0]],[dotsTRNA,CC[1]],[dotsMismatch,CC[9]]].forEach(q=>
  series.push({type:'scatter',xAxisIndex:gR,yAxisIndex:gR,symbolSize:2.6,silent:true,z:3,itemStyle:{color:q[1],opacity:1},data:q[0]}));
rugGrid(980,1068.3,1245,1136.7,rugLowRows,17670,225);
L(980,1136.7,1245,1136.7,1.2,'#9a9a9a');
arrow(981,1235,1164);T(986,1178,'Low risk',{a:'center'});T(1222,1178,'High risk',{a:'center'});
T(941,994,'Enrichment score',{a:'center',s:15.6,r:Math.PI/2});

const chart=echarts.init(document.getElementById('c'),null,{renderer:'canvas',width:1656,height:1192});
chart.setOption({animation:false,backgroundColor:'#fff',textStyle:{fontFamily:FF},
 polar,angleAxis,radiusAxis,grid,xAxis,yAxis,series,
 visualMap:[{type:'continuous',seriesIndex:heatSeries,min:-2,max:2,dimension:2,calculable:false,show:true,padding:0,
   left:1549,top:589,itemWidth:12,itemHeight:97,text:null,textGap:0,
   inRange:{color:['#3b80c0','#9cc0e2','#ffffff','#fa9f88','#e9262a']},textStyle:{color:'transparent',fontSize:1}}],
 graphic:{elements:g}});
</script></body></html>
